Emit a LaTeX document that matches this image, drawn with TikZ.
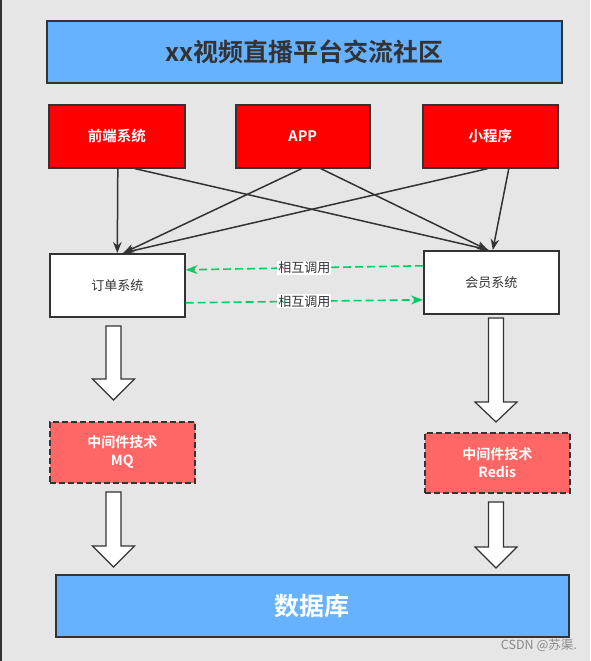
\documentclass[tikz,border=0pt]{standalone}
\usepackage{fontspec}
\setmainfont{Noto Sans CJK SC}[BoldFont={Noto Sans CJK SC Bold}]
\usetikzlibrary{arrows.meta}
\definecolor{bgc}{HTML}{E6E6E6}
\definecolor{edge}{HTML}{333333}
\definecolor{blueboxc}{HTML}{66B2FF}
\definecolor{redboxc}{HTML}{FF0000}
\definecolor{pinkboxc}{HTML}{FF6666}
\definecolor{greenc}{HTML}{00CC66}
\definecolor{markc}{HTML}{8A8A8A}
\tikzset{
  box/.style={draw=edge, line width=1.6pt, anchor=north west, inner sep=0pt, align=center},
  titlebox/.style={box, fill=blueboxc, font=\fontsize{25}{28}\selectfont\bfseries},
  redbox/.style={box, fill=redboxc, text=white, font=\fontsize{14.5}{17}\selectfont\bfseries},
  sysbox/.style={box, fill=white, text=edge, font=\fontsize{13}{15}\selectfont},
  midbox/.style={box, fill=pinkboxc, text=white, dash pattern=on 6pt off 3pt, font=\fontsize{14}{18}\selectfont\bfseries},
  dbbox/.style={box, fill=blueboxc, text=white, font=\fontsize{25}{28}\selectfont\bfseries},
  link/.style={draw=edge, line width=1.5pt, -{Stealth[length=11pt,width=8.5pt]}},
  calllink/.style={draw=greenc, line width=1.6pt, dash pattern=on 8pt off 4pt, -{Stealth[length=12pt,width=9pt]}},
  calllabel/.style={fill=white, text=edge, inner sep=1pt, font=\fontsize{13}{15}\selectfont},
  blockarrow/.style={draw=edge, fill=white, line width=1.2pt, line join=miter},
}
\newcommand{\myblockarrow}[4]{%
  \draw[blockarrow] (#1-7.5,#2) -- (#1+7.5,#2) -- (#1+7.5,#3) -- (#1+21,#3) -- (#1,#4) -- (#1-21,#3) -- (#1-7.5,#3) -- cycle;}
\begin{document}
\begin{tikzpicture}[x=1pt,y=-1pt]
\fill[bgc] (0,0) rectangle (590,661);
\useasboundingbox (0,0) rectangle (590,661);
\draw[edge, line width=2pt] (1,0) -- (1,661);

\node[titlebox, minimum width=515, minimum height=62, text=edge] (title) at (46,20) {xx视频直播平台交流社区};

\node[redbox, minimum width=136, minimum height=63] (fe) at (48,104) {前端系统};
\node[redbox, minimum width=134, minimum height=63] (app) at (235,104) {APP};
\node[redbox, minimum width=135, minimum height=63] (mini) at (422,104) {小程序};

\node[sysbox, minimum width=135, minimum height=63] (dd) at (49,253) {订单系统};
\node[sysbox, minimum width=135, minimum height=63] (hy) at (423,250) {会员系统};

\draw[link] ([xshift=1pt]fe.south) -- (dd.north);
\draw[link] ([xshift=18pt]fe.south) -- ([xshift=-2.5pt]hy.north);
\draw[link] ([xshift=-1pt]app.south) -- ([xshift=6pt]dd.north);
\draw[link] ([xshift=18pt]app.south) -- ([xshift=-3.5pt]hy.north);
\draw[link] ([xshift=-2.5pt]mini.south) -- ([xshift=5.5pt]dd.north);
\draw[link] ([xshift=18.5pt]mini.south) -- ([xshift=1.5pt]hy.north);

\draw[calllink] ([yshift=16.5pt]hy.west) -- node[calllabel] {相互调用} ([yshift=15.5pt]dd.east);
\draw[calllink] ([yshift=-17.5pt]dd.east) -- node[calllabel] {相互调用} ([yshift=-17.5pt]hy.west);

\node[midbox, minimum width=145, minimum height=61] (mq) at (49,421) {中间件技术\\MQ};
\node[midbox, minimum width=145, minimum height=60] (redis) at (424,432) {中间件技术\\Redis};

\node[dbbox, minimum width=513, minimum height=62] (db) at (55,574) {数据库};

\myblockarrow{113.5}{326}{379}{400}
\myblockarrow{496}{318}{402}{422}
\myblockarrow{113.5}{492}{546}{567}
\myblockarrow{496}{502}{547}{568}

\node[text=markc, font=\fontsize{12.5}{14}\selectfont, anchor=east, inner sep=0pt] (mark) at (577,645) {CSDN @苏渠.};
\end{tikzpicture}
\end{document}
